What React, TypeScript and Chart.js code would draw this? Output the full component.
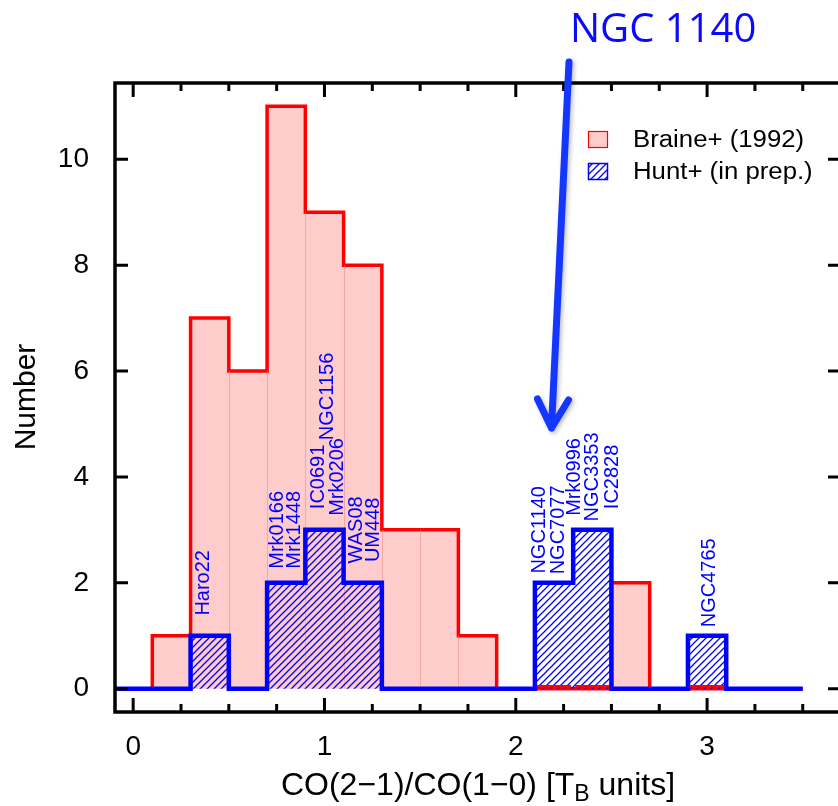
import React, { useEffect, useRef } from "react";
import { Chart, registerables } from "chart.js";

Chart.register(...registerables);

// ---------------- data ----------------
const binEdges = [-0.1, 0.1, 0.3, 0.5, 0.7, 0.9, 1.1, 1.3, 1.5, 1.7, 1.9, 2.1, 2.3, 2.5, 2.7, 2.9, 3.1, 3.3, 3.5];
const braineCounts = [0, 1, 7, 6, 11, 9, 8, 3, 3, 1, 0, 0, 0, 2, 0, 0, 0, 0];
const huntCounts = [0, 0, 1, 0, 2, 3, 2, 0, 0, 0, 0, 2, 3, 0, 0, 1, 0, 0];

const huntNames = ["Haro22", "Mrk0166", "Mrk1448", "IC0691", "Mrk0206", "NGC1156", "WAS08", "UM448", "NGC1140", "NGC7077", "Mrk0996", "NGC3353", "IC2828", "NGC4765"];
const huntLabelX = [0.36, 0.746, 0.832, 0.961, 1.06, 1.007, 1.159, 1.245, 2.115, 2.214, 2.298, 2.392, 2.496, 3.003];
const huntLabelY = [2, 3, 3, 4, 4, 5.52, 3, 3, 3, 3, 4, 4, 4, 2];

const seriesNames = ["Braine+ (1992)", "Hunt+ (in prep.)"];

const xTickValues = [0, 1, 2, 3];
const xTickLabels = ["0", "1", "2", "3"];
const xMinorTicks = [0, 0.25, 0.5, 0.75, 1, 1.25, 1.5, 1.75, 2, 2.25, 2.5, 2.75, 3, 3.25, 3.5];
const yTickValues = [0, 2, 4, 6, 8, 10];
const yTickLabels = ["0", "2", "4", "6", "8", "10"];

const xTitleParts = ["CO(2\u22121)/CO(1\u22120) [T", "B", " units]"];
const yTitle = "Number";
const annotationText = "NGC 1140";

const X_MIN = -0.095;
const X_MAX = 3.7;
const Y_MIN = -0.44;
const Y_MAX = 11.44;

const FONT = "'Liberation Sans', Arial, Helvetica, sans-serif";
const RED = "#ff0000";
const PINK = "#ffcccc";
const BLUE = "#0000ff";

function stepPoints(counts: number[]) {
  return binEdges.map((e, i) => ({ x: e, y: counts[Math.min(i, counts.length - 1)] }));
}

function makeHatch(ctx: CanvasRenderingContext2D) {
  const s = 7;
  const c = document.createElement("canvas");
  c.width = s;
  c.height = s;
  const g = c.getContext("2d")!;
  g.strokeStyle = BLUE;
  g.lineWidth = 1.25;
  g.beginPath();
  g.moveTo(0, s);
  g.lineTo(s, 0);
  g.moveTo(-1, 1);
  g.lineTo(1, -1);
  g.moveTo(s - 1, s + 1);
  g.lineTo(s + 1, s - 1);
  g.stroke();
  return ctx.createPattern(c, "repeat")!;
}

const overlayPlugin = {
  id: "overlay",
  afterDatasetDraw(chart: any, args: any) {
    const { ctx, scales } = chart;
    const xs = scales.x;
    const ys = scales.y;
    if (args.index === 0) {
      // faint bin separators inside the filled histogram
      ctx.save();
      ctx.strokeStyle = "rgba(235,140,140,0.55)";
      ctx.lineWidth = 1;
      for (let i = 1; i < braineCounts.length; i++) {
        const h = Math.min(braineCounts[i - 1], braineCounts[i]);
        if (h <= 0) continue;
        const px = Math.round(xs.getPixelForValue(binEdges[i])) + 0.5;
        ctx.beginPath();
        ctx.moveTo(px, ys.getPixelForValue(0));
        ctx.lineTo(px, ys.getPixelForValue(h));
        ctx.stroke();
      }
      ctx.restore();
    }
    if (args.index === 1) {
      // red baseline peeking through inside the hatched bars
      ctx.save();
      ctx.strokeStyle = RED;
      ctx.lineWidth = 2.5;
      const y0 = ys.getPixelForValue(0) - 2.5;
      for (let i = 0; i < huntCounts.length; i++) {
        if (huntCounts[i] > 0 && braineCounts[i] === 0) {
          ctx.beginPath();
          ctx.moveTo(xs.getPixelForValue(binEdges[i]) + 2, y0);
          ctx.lineTo(xs.getPixelForValue(binEdges[i + 1]) - 2, y0);
          ctx.stroke();
        }
      }
      ctx.restore();
    }
  },
  afterDraw(chart: any) {
    const { ctx, chartArea, scales } = chart;
    const xs = scales.x;
    const ys = scales.y;
    const { left, right, top, bottom } = chartArea;

    // galaxy labels
    ctx.save();
    ctx.fillStyle = BLUE;
    ctx.font = `20px ${FONT}`;
    ctx.textAlign = "center";
    ctx.textBaseline = "alphabetic";
    huntNames.forEach((n, i) => {
      const px = xs.getPixelForValue(huntLabelX[i]);
      const py = ys.getPixelForValue(huntLabelY[i]);
      ctx.save();
      ctx.translate(px, py);
      ctx.scale(1.04, 1);
      ctx.rotate(-Math.PI / 2);
      ctx.fillText(n, 0, 20 * 0.358);
      ctx.restore();
    });
    ctx.restore();

    // frame
    ctx.save();
    ctx.strokeStyle = "#000";
    ctx.lineWidth = 3.5;
    ctx.strokeRect(left, top, right - left, bottom - top);
    ctx.lineWidth = 3;
    ctx.beginPath();
    xMinorTicks.forEach((v) => {
      const px = xs.getPixelForValue(v);
      const len = xTickValues.includes(v) ? 14 : 8;
      ctx.moveTo(px, bottom);
      ctx.lineTo(px, bottom - len);
      ctx.moveTo(px, top);
      ctx.lineTo(px, top + len);
    });
    yTickValues.forEach((v) => {
      const py = ys.getPixelForValue(v);
      ctx.moveTo(left, py);
      ctx.lineTo(left + 13, py);
      ctx.moveTo(right, py);
      ctx.lineTo(right - 13, py);
    });
    ctx.stroke();
    ctx.restore();

    // axis titles
    ctx.save();
    ctx.fillStyle = "#000";
    ctx.textBaseline = "alphabetic";
    const mainFont = `32px ${FONT}`;
    const subFont = `23px ${FONT}`;
    ctx.font = mainFont;
    const w0 = ctx.measureText(xTitleParts[0]).width;
    const w2 = ctx.measureText(xTitleParts[2]).width;
    ctx.font = subFont;
    const w1 = ctx.measureText(xTitleParts[1]).width;
    const total = w0 + w1 + w2;
    const sx = (left + right) / 2 - total / 2;
    const by = 795;
    ctx.textAlign = "left";
    ctx.font = mainFont;
    ctx.fillText(xTitleParts[0], sx, by);
    ctx.font = subFont;
    ctx.fillText(xTitleParts[1], sx + w0, by + 6);
    ctx.font = mainFont;
    ctx.fillText(xTitleParts[2], sx + w0 + w1, by);

    ctx.font = `30px ${FONT}`;
    ctx.textAlign = "center";
    ctx.translate(24, 397);
    ctx.rotate(-Math.PI / 2);
    ctx.fillText(yTitle, 0, 30 * 0.358);
    ctx.restore();

    // legend
    ctx.save();
    const boxX = 588;
    const boxW = 20;
    const boxH = 17;
    const rows = [131, 163];
    ctx.fillStyle = PINK;
    ctx.fillRect(boxX, rows[0], boxW, boxH);
    ctx.strokeStyle = RED;
    ctx.lineWidth = 1.2;
    ctx.strokeRect(boxX + 0.5, rows[0] + 0.5, boxW - 1, boxH - 1);
    ctx.fillStyle = chart.data.datasets[1].backgroundColor;
    ctx.fillRect(boxX, rows[1], boxW, boxH);
    ctx.strokeStyle = BLUE;
    ctx.lineWidth = 1.5;
    ctx.strokeRect(boxX + 0.5, rows[1] + 0.5, boxW - 1, boxH - 1);
    ctx.fillStyle = "#000";
    ctx.font = `23px ${FONT}`;
    ctx.textAlign = "left";
    ctx.textBaseline = "alphabetic";
    chart.data.datasets.forEach((d: any, i: number) => {
      ctx.save();
      ctx.translate(633, rows[i] + 16);
      ctx.scale(1.12, 1);
      ctx.fillText(d.label, 0, 0);
      ctx.restore();
    });
    ctx.restore();

    // annotation + arrow
    ctx.save();
    ctx.fillStyle = "#0a0aff";
    ctx.font = `40px 'Open Sans', 'Noto Sans', sans-serif`;
    ctx.textAlign = "left";
    ctx.textBaseline = "alphabetic";
    ctx.fillText(annotationText, 570, 42);

    ctx.shadowColor = "rgba(0,0,0,0.25)";
    ctx.shadowBlur = 4;
    ctx.shadowOffsetX = 2;
    ctx.shadowOffsetY = 2;
    ctx.strokeStyle = "#1437ff";
    ctx.lineWidth = 7;
    ctx.lineCap = "round";
    ctx.lineJoin = "round";
    ctx.beginPath();
    ctx.moveTo(569, 62);
    ctx.lineTo(551.5, 428);
    ctx.moveTo(537.5, 399);
    ctx.lineTo(551.5, 428);
    ctx.lineTo(568.5, 400);
    ctx.stroke();
    ctx.restore();
  },
};

export default function App() {
  const ref = useRef<HTMLCanvasElement | null>(null);

  useEffect(() => {
    const canvas = ref.current!;
    const ctx = canvas.getContext("2d")!;
    const hatch = makeHatch(ctx);
    const chart = new Chart(ctx, {
      type: "line",
      data: {
        datasets: [
          {
            label: seriesNames[0],
            data: stepPoints(braineCounts),
            stepped: "before",
            borderColor: RED,
            borderWidth: 3.5,
            backgroundColor: PINK,
            fill: "origin",
            pointRadius: 0,
            borderJoinStyle: "miter",
            borderCapStyle: "butt",
            order: 2,
          },
          {
            label: seriesNames[1],
            data: stepPoints(huntCounts),
            stepped: "before",
            borderColor: BLUE,
            borderWidth: 4.5,
            backgroundColor: hatch,
            fill: "origin",
            pointRadius: 0,
            borderJoinStyle: "miter",
            borderCapStyle: "butt",
            order: 1,
          },
        ],
      } as any,
      options: {
        animation: false,
        responsive: false,
        maintainAspectRatio: false,
        layout: { padding: { top: 83, right: 19, left: 0, bottom: 0 } },
        plugins: { legend: { display: false }, tooltip: { enabled: false } },
        scales: {
          x: {
            type: "linear",
            min: X_MIN,
            max: X_MAX,
            grid: { display: false, drawTicks: false, tickLength: 0 },
            border: { display: false },
            afterBuildTicks: (s: any) => {
              s.ticks = xTickValues.map((v) => ({ value: v }));
            },
            afterFit: (s: any) => {
              s.height = 94;
            },
            ticks: {
              autoSkip: false,
              maxRotation: 0,
              minRotation: 0,
              padding: 18,
              color: "#000",
              font: { family: FONT, size: 28 },
              callback: (v: any) => xTickLabels[xTickValues.indexOf(Number(v))] ?? "",
            },
          },
          y: {
            type: "linear",
            min: Y_MIN,
            max: Y_MAX,
            grid: { display: false, drawTicks: false, tickLength: 0 },
            border: { display: false },
            afterBuildTicks: (s: any) => {
              s.ticks = yTickValues.map((v) => ({ value: v }));
            },
            afterFit: (s: any) => {
              s.width = 115;
            },
            ticks: {
              autoSkip: false,
              padding: 26,
              color: "#000",
              font: { family: FONT, size: 28 },
              callback: (v: any) => yTickLabels[yTickValues.indexOf(Number(v))] ?? "",
            },
          },
        },
      } as any,
      plugins: [overlayPlugin],
    });
    return () => chart.destroy();
  }, []);

  return (
    <div
      style={{
        position: "fixed",
        left: 0,
        top: 0,
        width: 838,
        height: 806,
        overflow: "hidden",
        background: "#fff",
      }}
    >
      <canvas ref={ref} width={860} height={806} style={{ width: 860, height: 806, display: "block" }} />
    </div>
  );
}
